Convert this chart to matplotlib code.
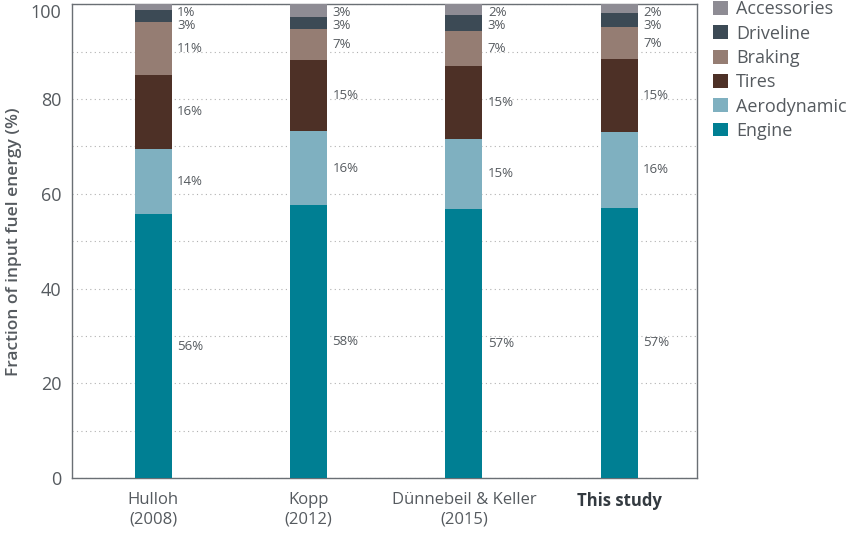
import matplotlib.pyplot as plt
from matplotlib.patches import Patch

plt.rcParams['font.family'] = ['Open Sans', 'DejaVu Sans']

studies = ["Hulloh\n(2008)", "Kopp\n(2012)", "Dünnebeil & Keller\n(2015)", "This study"]
categories = ["Engine", "Aerodynamic", "Tires", "Braking", "Driveline", "Accessories"]

engine = [55.7, 57.6, 56.8, 57.1]
aerodynamic = [13.8, 15.6, 14.8, 15.9]
tires = [15.6, 15.0, 15.4, 15.4]
braking = [11.1, 6.6, 7.4, 6.8]
driveline = [2.6, 2.6, 3.4, 2.9]
accessories = [1.2, 2.6, 2.2, 1.9]

series = [engine, aerodynamic, tires, braking, driveline, accessories]
colors = ["#007f93", "#7fb0c0", "#4d3026", "#957d73", "#3c4a55", "#8e8c94"]

text_col = "#555a5f"

fig = plt.figure(figsize=(8.5, 5.33), dpi=100)
ax = fig.add_axes([0.085, 0.1026, 0.735, 0.8895])

x = list(range(len(studies)))
width = 0.238
bottoms = [0.0] * len(studies)
for vals, col in zip(series, colors):
    ax.bar(x, vals, width, bottom=bottoms, color=col, zorder=3)
    bottoms = [b + v for b, v in zip(bottoms, vals)]

# percentage labels to the right of each bar
for i in x:
    b = 0.0
    for k, vals in enumerate(series):
        v = vals[i]
        if k == 4:
            ly = 95.6
        elif k == 5:
            ly = 98.2
        else:
            ly = b + v / 2
        ax.text(i + width / 2 + 0.035, ly, f"{round(v)}%", fontsize=9.5,
                color=text_col, va="center", ha="left")
        b += v

ax.set_xlim(-0.52, 3.5)
ax.set_ylim(0, 100)
ax.set_yticks([0, 20, 40, 60, 80, 100])
ax.set_yticks([10, 30, 50, 70, 90], minor=True)
ax.grid(axis="y", which="both", linestyle=(0, (1, 3)), color="#b0b0b0", linewidth=0.8, zorder=0)
ax.tick_params(axis="both", which="both", length=0, colors=text_col)
ax.tick_params(axis="y", labelsize=13, pad=8)
ax.get_yticklabels()[-1].set_verticalalignment("top")
ax.set_xticks(x)
ax.set_xticklabels(studies, fontsize=12, color=text_col, linespacing=1.3)
ax.tick_params(axis="x", pad=10)
ax.get_xticklabels()[-1].set_fontweight("bold")
ax.get_xticklabels()[-1].set_color("#333a40")
for s in ax.spines.values():
    s.set_color("#6a6f74")
    s.set_linewidth(1.0)

ax.set_ylabel("Fraction of input fuel energy (%)", fontsize=12.5, color=text_col,
              fontweight="semibold", labelpad=6)

handles = [Patch(facecolor=c, label=n) for n, c in zip(categories, colors)][::-1]
fig.legend(handles=handles, loc="upper left", bbox_to_anchor=(0.82, 1.03),
           frameon=False, fontsize=13, labelcolor=text_col, handlelength=0.8,
           handleheight=0.8, handletextpad=0.45, labelspacing=0.35)

fig.savefig("out.png", dpi=100)
